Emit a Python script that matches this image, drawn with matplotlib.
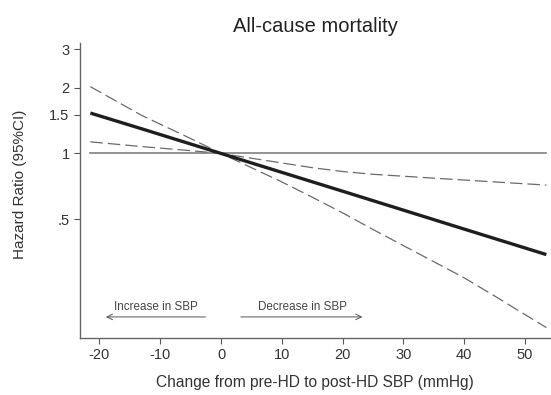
import numpy as np
import matplotlib.pyplot as plt

plt.rcParams['font.family'] = ['Liberation Sans', 'DejaVu Sans']
plt.rcParams['axes.unicode_minus'] = False

# change in SBP (mmHg) and hazard ratio estimates
x_hr = [-21.5, -13, 0, 5, 20, 28, 40, 53.5]
hr = [1.53, 1.295, 1.0, 0.905, 0.672, 0.573, 0.451, 0.345]

x_ci = [-21.5, -13, -5, 0, 5, 10, 15, 20, 25, 30, 35, 40, 45, 53.5]
ci_upper = [2.02, 1.49, 1.17, 1.0, 0.951, 0.905, 0.861, 0.827, 0.803, 0.787,
            0.771, 0.756, 0.741, 0.717]
ci_lower = [1.13, 1.075, 1.03, 1.0, 0.861, 0.741, 0.631, 0.535, 0.449, 0.379,
            0.320, 0.270, 0.223, 0.160]

yticks = [0.5, 1, 1.5, 2, 3]
ytick_labels = ['.5', '1', '1.5', '2', '3']
xticks = [-20, -10, 0, 10, 20, 30, 40, 50]

fig = plt.figure(figsize=(5.51, 3.95), dpi=100)
ax = fig.add_axes([0.1452, 0.1443, 0.853, 0.747])

ax.set_yscale('log')
ax.plot([x_hr[0], x_hr[-1]], [1, 1], color='#808080', lw=1.2)
ax.plot(x_ci, ci_upper, color='#6a6a6a', lw=0.9, ls=(0, (10, 4)))
ax.plot(x_ci, ci_lower, color='#6a6a6a', lw=0.9, ls=(0, (10, 4)))
ax.plot(x_hr, hr, color='#1e1e1e', lw=2.4, solid_capstyle='butt')

ax.set_xlim(-23.2, 54.1)
ax.set_ylim(0.1434, 3.2)
ax.set_yticks(yticks)
ax.set_yticklabels(ytick_labels)
ax.minorticks_off()
ax.set_xticks(xticks)
ax.tick_params(labelsize=10.5, length=4, color='#555555', labelcolor='#333333')

for side in ['top', 'right']:
    ax.spines[side].set_visible(False)
for side in ['left', 'bottom']:
    ax.spines[side].set_color('#666666')
    ax.spines[side].set_linewidth(1.0)

# direction arrows
ax.annotate('', xy=(-19.4, 0.179), xytext=(-2.1, 0.179),
            arrowprops=dict(arrowstyle='->', color='#555555', lw=0.7))
ax.annotate('', xy=(23.7, 0.179), xytext=(2.8, 0.179),
            arrowprops=dict(arrowstyle='->', color='#555555', lw=0.7))
ax.text(-10.8, 0.198, 'Increase in SBP', fontsize=8.4, color='#444444', ha='center', va='center')
ax.text(13.4, 0.198, 'Decrease in SBP', fontsize=8.4, color='#444444', ha='center', va='center')

ax.set_title('All-cause mortality', fontsize=14.5, color='#222222', pad=8)
ax.set_ylabel('Hazard Ratio (95%CI)', fontsize=11, color='#333333')
ax.yaxis.set_label_coords(-0.113, 0.52)
ax.set_xlabel('Change from pre-HD to post-HD SBP (mmHg)', fontsize=11.2, color='#333333')
ax.xaxis.set_label_coords(0.5, -0.125)

fig.savefig('out.png', dpi=100)
